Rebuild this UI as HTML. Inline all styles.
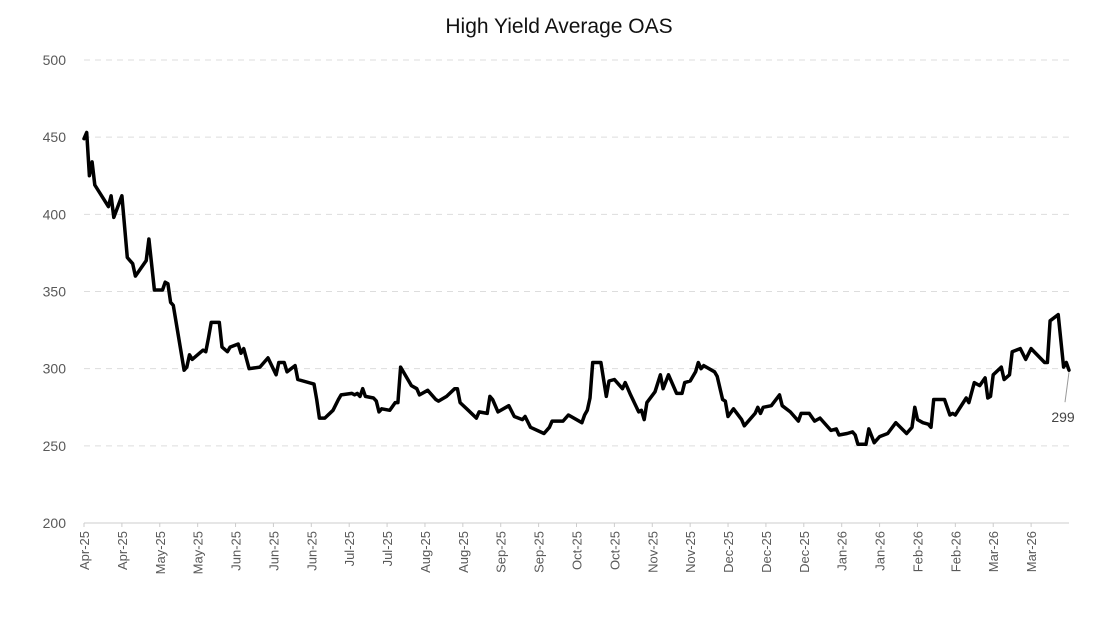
<!DOCTYPE html>
<html><head><meta charset="utf-8"><style>
html,body{margin:0;padding:0;background:#fff;}
svg{display:block;font-family:"Liberation Sans",Arial,sans-serif;}
</style></head><body>
<svg id="chart" width="1119" height="628" viewBox="0 0 1119 628">
<text x="559" y="33" text-anchor="middle" font-size="21" fill="#111">High Yield Average OAS</text>
<g id="grid"></g><g id="yticks"></g><g id="xticks"></g><g id="series"></g>
</svg>
<script>
const yTickValues = [200,250,300,350,400,450,500];
const xTickLabels = ["Apr-25","Apr-25","May-25","May-25","Jun-25","Jun-25","Jun-25","Jul-25","Jul-25","Aug-25","Aug-25","Sep-25","Sep-25","Oct-25","Oct-25","Nov-25","Nov-25","Dec-25","Dec-25","Dec-25","Jan-26","Jan-26","Feb-26","Feb-26","Mar-26","Mar-26"];
const xTickDays = [0,14,28,42,56,70,84,98,112,126,140,154,168,182,196,210,224,238,252,266,280,294,308,322,336,350];
const days = [0,1,2,3,4,9,10,11,14,16,18,19,23,24,26,29,30,31,32,33,37,38,39,40,44,45,46,47,50,51,53,54,57,58,59,61,65,68,71,72,74,75,78,79,85,86,87,89,92,94,95,99,100,101,102,103,104,107,108,109,110,113,115,116,117,121,123,124,127,130,131,134,137,138,139,142,145,146,149,150,151,153,157,159,162,163,165,170,172,173,177,179,184,185,186,187,188,191,193,194,196,199,200,201,202,205,206,207,208,211,213,214,216,219,221,222,224,226,227,228,229,233,234,236,237,238,240,243,244,248,249,250,251,254,257,258,261,264,265,268,270,272,276,278,279,282,284,285,286,289,290,292,294,297,300,304,306,307,308,310,312,313,314,318,320,321,322,326,327,329,331,333,334,335,336,339,340,342,343,346,348,350,355,356,357,360,362,363,364];
const oas = [449,453,425,434,419,405,412,398,412,372,368,360,370,384,351,351,356,355,343,341,299,301,309,306,312,311,320,330,330,314,311,314,316,310,313,300,301,307,296,304,304,298,302,293,290,280,268,268,273,280,283,284,283,284,282,287,282,281,279,272,274,273,278,278,301,289,287,283,286,280,279,282,287,287,278,273,268,272,271,282,280,272,276,269,267,269,262,258,262,266,266,270,265,270,273,281,304,304,282,292,293,287,291,287,283,272,273,267,278,285,296,287,296,284,284,291,292,298,304,300,302,298,295,280,279,269,274,267,263,271,275,271,275,276,283,276,272,266,271,271,266,268,260,261,257,258,259,257,251,251,261,252,256,258,265,258,262,275,267,265,264,262,280,280,270,271,270,281,278,291,289,294,281,282,296,301,293,296,311,313,306,313,304,304,331,335,301,304,299];
const NS='http://www.w3.org/2000/svg';
const X0=84,X1=1069,Y0=523,Y1=60,DMAX=364,VMIN=200,VMAX=500;
const xs=d=>X0+(X1-X0)*d/DMAX;
const ys=v=>Y0-(Y0-Y1)*(v-VMIN)/(VMAX-VMIN);
function mk(t,a){const e=document.createElementNS(NS,t);for(const k in a)e.setAttribute(k,a[k]);return e;}
const grid=document.getElementById('grid'),yt=document.getElementById('yticks'),xt=document.getElementById('xticks'),se=document.getElementById('series');
yTickValues.forEach(v=>{
  const y=ys(v);
  const l=mk('line',{x1:X0,x2:X1,y1:y,y2:y,stroke:v===200?'#ccc':'#ddd','stroke-width':1,'stroke-dasharray':v===200?'':'6,5'});
  
  
  grid.appendChild(l);
  const t=mk('text',{x:66,y:y+5,'text-anchor':'end','font-size':14,fill:'#595959'});
  t.textContent=v;
  
  
  yt.appendChild(t);
});
xTickLabels.forEach((lab,i)=>{
  const x=xs(xTickDays[i]);
  const tk=mk('line',{x1:x,x2:x,y1:Y0,y2:Y0+4,stroke:'#ccc'});
  
  
  xt.appendChild(tk);
  const t=mk('text',{x:0,y:0,'text-anchor':'end','font-size':13,fill:'#595959',transform:`translate(${x+5},${Y0+8}) rotate(-90)`});
  t.textContent=lab;
  
  
  xt.appendChild(t);
});
const pts=days.map((d,i)=>xs(d).toFixed(1)+','+ys(oas[i]).toFixed(1)).join(' ');
const pl=mk('polyline',{points:pts,fill:'none',stroke:'#000','stroke-width':3.5,'stroke-linejoin':'round','stroke-linecap':'round'});


se.appendChild(pl);
const li=days.length-1,lx=xs(days[li]),ly=ys(oas[li]);
const ld=mk('line',{x1:lx,y1:ly+2,x2:lx-4,y2:ly+32,stroke:'#999','stroke-width':1});


se.appendChild(ld);
const lt=mk('text',{x:lx-6,y:ly+52,'text-anchor':'middle','font-size':14,fill:'#444'});
lt.textContent=oas[li];


se.appendChild(lt);
</script>
</body></html>
